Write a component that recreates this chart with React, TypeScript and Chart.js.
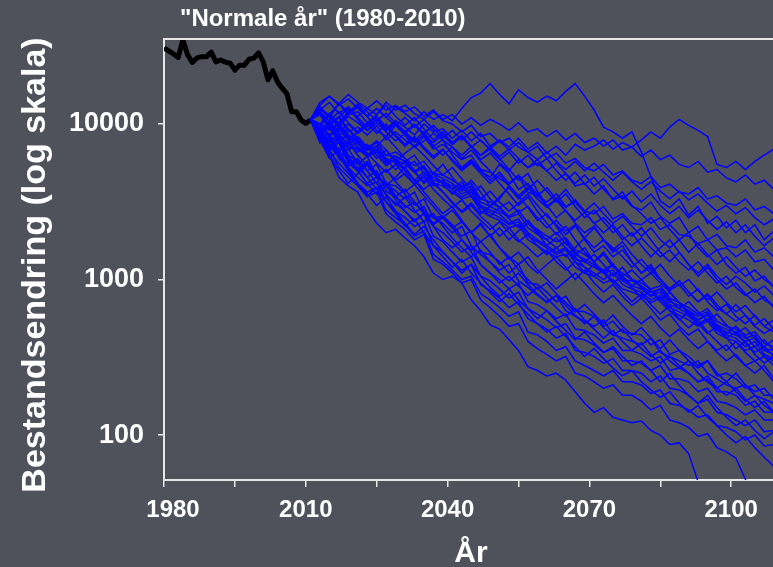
import React, { useEffect, useRef } from "react";
import { Chart, registerables } from "chart.js";

Chart.register(...registerables);

// ---- categories / ticks ----
const histYears = [1980, 1981, 1982, 1983, 1984, 1985, 1986, 1987, 1988, 1989, 1990, 1991, 1992, 1993, 1994, 1995, 1996, 1997, 1998, 1999, 2000, 2001, 2002, 2003, 2004, 2005, 2006, 2007, 2008, 2009, 2010, 2011];
const histValues = [30800, 29500, 28200, 26800, 34700, 27800, 24900, 26600, 27100, 27100, 29000, 25100, 25800, 25000, 24600, 22200, 23900, 23900, 26100, 26500, 28700, 25100, 19200, 22000, 18700, 17000, 15700, 12000, 12000, 10600, 10100, 10600];

const simYears = [2011, 2013, 2015, 2017, 2019, 2021, 2023, 2025, 2027, 2029, 2031, 2033, 2035, 2037, 2039, 2041, 2043, 2045, 2047, 2049, 2051, 2053, 2055, 2057, 2059, 2061, 2063, 2065, 2067, 2069, 2071, 2073, 2075, 2077, 2079, 2081, 2083, 2085, 2087, 2089, 2091, 2093, 2095, 2097, 2099, 2101, 2103, 2105, 2107, 2109, 2111, 2113];

const xTickLabels = [1980, 2010, 2040, 2070, 2100];
const yTickValues = [100, 1000, 10000];

const titleText = '"Normale år" (1980-2010)';
const yTitle = "Bestandsendring (log skala)";
const xTitle = "År";

// ---- simulated runs (values per simYears) ----
const run01 = [10700, 12300, 11500, 13500, 12000, 13200, 11200, 12600, 11000, 12900, 11700, 10500, 12000, 10700, 11500, 10500, 12600, 14800, 15800, 18200, 15500, 13500, 16600, 14800, 13800, 15100, 14100, 16200, 18200, 15100, 12300, 9550, 8900, 8100, 8900, 6600, 4600, 3200, 2900, 3300, 2600, 2950, 2300, 2550, 2150, 2400, 2000, 2250, 1800, 2050, 1650, 1850];
const run02 = [10700, 10000, 11700, 9800, 11200, 10200, 9100, 10700, 9300, 10500, 9550, 8500, 10000, 8900, 9300, 8100, 9100, 7800, 8700, 7200, 7900, 7100, 8100, 6900, 7600, 6500, 7200, 6300, 7400, 6800, 7200, 7900, 6900, 7600, 7100, 7900, 8900, 8100, 9550, 10700, 9800, 9100, 8300, 5500, 5250, 5750, 5100, 5750, 6300, 6900, 6500, 6800];
const run03 = [10700, 13200, 15100, 13500, 15500, 13800, 12600, 14100, 12300, 13200, 12000, 12900, 11200, 12300, 10700, 11500, 10000, 11000, 9800, 10700, 10000, 9100, 10200, 8900, 9300, 8300, 9100, 7900, 8700, 7600, 8100, 7200, 7900, 6800, 7100, 6200, 6800, 5900, 6300, 5500, 5250, 5750, 4900, 5100, 4500, 4250, 4700, 4100, 4350, 3800, 4000, 3550];
const run04 = [10700, 9550, 11500, 10200, 12000, 11200, 12600, 11500, 13800, 12300, 13200, 11700, 10700, 12000, 10500, 10000, 8900, 9800, 8300, 8700, 7600, 8100, 7100, 6600, 7200, 6000, 6500, 5600, 6000, 5250, 5000, 5500, 4700, 5000, 4350, 4150, 4600, 3900, 4100, 3650, 3550, 3900, 3300, 3450, 3100, 3000, 3300, 2800, 2950, 2650, 2750, 2500];
const run05 = [10700, 12600, 11000, 13500, 11500, 12000, 10200, 11200, 9100, 9800, 8900, 7800, 8900, 7200, 7900, 7100, 6300, 7200, 5900, 6500, 5600, 5000, 5900, 5250, 5600, 5000, 4350, 4800, 4000, 4150, 3550, 4000, 3250, 3450, 2950, 2800, 3150, 2550, 2300, 2500, 2000, 2200, 1800, 1950, 1650, 1600, 1800, 1500, 1600, 1400, 1500, 1400];
const run06 = [10700, 11700, 9800, 11000, 8900, 9550, 8500, 9800, 7900, 8900, 7900, 7200, 8300, 6900, 7400, 6600, 5900, 6300, 5100, 4900, 4450, 4100, 4600, 3650, 3450, 3150, 3550, 2950, 3150, 2750, 2650, 2950, 2450, 2650, 2300, 2250, 2500, 2100, 2250, 1950, 1900, 1700, 1800, 1550, 1600, 1400, 1550, 1300, 1350, 1150, 1250, 1100];
const run07 = [10700, 12600, 11000, 9550, 11500, 12900, 11200, 9100, 8300, 9800, 8500, 7100, 7800, 8700, 7900, 6300, 5250, 5900, 5000, 4550, 5500, 4800, 3800, 4150, 3550, 2950, 3300, 3800, 3150, 2700, 2300, 2500, 2150, 1800, 2000, 1650, 1400, 1600, 1800, 1500, 1250, 1100, 1250, 1050, 930, 1050, 950, 830, 910, 790, 720, 830];
const run08 = [10700, 9100, 10500, 12000, 10200, 8900, 10000, 11500, 13200, 11200, 9800, 11000, 9300, 7900, 8900, 7600, 8500, 7200, 6300, 6900, 6000, 5100, 4350, 4800, 3700, 3000, 2500, 2800, 2300, 2000, 2200, 1800, 1500, 1650, 1300, 1100, 1250, 1000, 870, 980, 830, 720, 790, 660, 600, 690, 590, 510, 560, 480, 430, 460];
const run09 = [10700, 8300, 7100, 7900, 6000, 5000, 5600, 4550, 5100, 4350, 4800, 4150, 4700, 4000, 4350, 3800, 4250, 3550, 4000, 3300, 2900, 3150, 2700, 2950, 2500, 2150, 2400, 2050, 2250, 1800, 1500, 1650, 1400, 1550, 1300, 1100, 1200, 1000, 850, 930, 780, 870, 720, 630, 690, 580, 520, 590, 500, 460, 500, 430];
const run10 = [10700, 12000, 9800, 8500, 9300, 7600, 6300, 7200, 8300, 7100, 6000, 5000, 4150, 4800, 5500, 4550, 3800, 4350, 3650, 2950, 3300, 4000, 3450, 2900, 2400, 2650, 2200, 1800, 1450, 1600, 1300, 1100, 950, 1050, 890, 760, 850, 720, 630, 550, 620, 520, 450, 500, 420, 360, 400, 330, 290, 320, 270, 240];
const run11 = [10700, 8700, 7200, 6200, 6900, 5600, 4550, 3800, 4250, 3450, 2900, 3150, 2650, 2250, 2500, 2150, 2350, 2000, 2250, 1900, 2150, 1800, 2050, 2300, 2000, 1650, 1850, 1600, 1400, 1200, 1050, 1150, 980, 830, 720, 810, 690, 600, 680, 560, 490, 550, 460, 400, 350, 400, 340, 300, 320, 280, 250, 260];
const run12 = [10700, 12300, 13800, 11700, 12900, 11000, 9550, 10700, 9100, 10200, 8700, 9800, 8500, 7600, 8500, 7400, 8300, 7100, 7900, 6800, 5900, 6600, 5600, 6300, 5400, 6000, 5000, 4350, 4900, 4100, 4550, 3800, 3300, 3650, 3000, 2650, 2300, 2500, 2100, 1800, 2000, 1600, 1400, 1550, 1250, 1100, 1200, 980, 1050, 890, 790, 870];
const run13 = [10700, 7900, 6300, 5000, 4150, 4800, 5500, 4700, 4000, 4550, 5250, 4350, 3650, 3100, 2650, 2950, 2400, 2000, 1750, 1950, 1600, 1350, 1500, 1250, 1100, 1250, 1400, 1200, 1000, 1150, 950, 830, 930, 780, 680, 760, 650, 550, 600, 500, 440, 480, 400, 350, 380, 320, 280, 300, 260, 220, 250, 210];
const run14 = [10700, 11700, 10000, 11200, 9300, 8100, 6900, 7800, 6800, 5750, 6500, 7200, 6300, 5400, 4700, 5250, 4450, 3800, 3300, 3700, 3150, 2750, 3100, 3550, 3000, 2550, 2250, 1950, 2200, 1850, 1600, 1800, 1550, 1750, 1450, 1250, 1100, 1250, 1050, 910, 1000, 850, 740, 830, 710, 620, 680, 580, 500, 550, 470, 420];
const run15 = [10700, 8700, 9550, 7900, 8500, 7400, 6900, 7600, 6300, 6600, 6000, 5400, 5750, 4800, 4700, 4350, 4000, 4150, 3300, 3150, 2900, 2550, 2800, 2300, 2100, 1900, 1750, 1850, 1550, 1450, 1300, 1450, 1200, 1100, 1000, 950, 870, 910, 760, 710, 660, 600, 650, 540, 500, 480, 440, 460, 390, 370, 350, 330];
const run16 = [10700, 10000, 9100, 10200, 8500, 7900, 7100, 7600, 6300, 6200, 5750, 6300, 5100, 4800, 4450, 4150, 3700, 4000, 3150, 2950, 2750, 2500, 2650, 2150, 1950, 1800, 1600, 1750, 1450, 1350, 1250, 1150, 1250, 1000, 980, 910, 830, 870, 720, 680, 630, 580, 620, 510, 480, 460, 420, 440, 360, 350, 330, 320];
const run17 = [10700, 8500, 7600, 8100, 6900, 7100, 6300, 6800, 5750, 6200, 5750, 5000, 5400, 4350, 4250, 4000, 3550, 3800, 3000, 2800, 2650, 2300, 2450, 2000, 1800, 1650, 1500, 1600, 1350, 1300, 1200, 1100, 1150, 980, 910, 870, 780, 830, 690, 650, 600, 550, 590, 490, 460, 440, 400, 420, 350, 330, 320, 300];
const run18 = [10700, 11500, 9300, 9800, 8300, 7600, 6800, 7200, 6000, 5600, 5250, 5750, 4800, 4550, 4150, 3800, 3400, 3650, 2900, 2700, 2500, 2250, 2350, 1900, 1750, 1600, 1450, 1550, 1300, 1200, 1100, 1000, 1100, 930, 870, 830, 740, 790, 660, 620, 580, 520, 560, 470, 440, 420, 370, 400, 330, 310, 300, 280];
const run19 = [10700, 9100, 7900, 8500, 7200, 6900, 6200, 6600, 5600, 5900, 5500, 4900, 5250, 4150, 4000, 3650, 3300, 3450, 2750, 2550, 2400, 2150, 2250, 1800, 1650, 1500, 1400, 1450, 1200, 1100, 1050, 950, 1000, 870, 830, 790, 710, 760, 630, 590, 550, 500, 540, 450, 420, 400, 350, 370, 320, 300, 280, 260];
const run20 = [10700, 9300, 7800, 6600, 7600, 6300, 5400, 4550, 5100, 4250, 3650, 4100, 3450, 2950, 2500, 2800, 2350, 2000, 2300, 1900, 1600, 1400, 1250, 1400, 1150, 1000, 870, 980, 1100, 950, 810, 710, 790, 680, 590, 520, 580, 490, 430, 480, 410, 360, 400, 340, 300, 330, 280, 250, 280, 230, 210, 230];
const run21 = [10700, 8900, 10200, 8700, 7400, 8300, 7100, 6000, 6800, 5750, 5000, 4350, 4900, 4150, 3650, 3150, 2750, 3100, 2650, 2950, 3400, 3900, 3300, 3800, 4350, 3700, 3150, 3550, 2950, 2500, 2800, 2350, 2000, 2250, 1900, 2150, 1800, 1500, 1300, 1500, 1250, 1050, 1200, 1000, 870, 950, 810, 710, 780, 660, 590, 630];
const run22 = [10700, 8500, 9550, 7600, 6200, 5100, 5750, 4800, 4000, 3400, 3800, 3150, 2700, 2300, 2550, 2150, 1800, 1550, 1750, 1500, 1250, 1400, 1150, 1000, 870, 950, 810, 710, 620, 690, 600, 520, 590, 500, 440, 490, 420, 360, 410, 350, 300, 270, 300, 250, 220, 250, 210, 190, 200, 170, 160, 170];
const run23 = [10700, 11500, 9800, 11000, 12600, 10700, 9100, 10200, 8900, 7800, 8700, 7600, 8500, 7200, 6300, 7100, 6000, 6800, 5750, 5000, 4150, 3550, 3000, 3400, 2750, 2300, 1950, 2200, 1800, 1500, 1300, 1500, 1250, 1050, 910, 1000, 850, 740, 830, 710, 620, 550, 600, 510, 450, 500, 430, 370, 410, 350, 310, 330];
const run24 = [10700, 8100, 6800, 7600, 6000, 5000, 4150, 3550, 4000, 3250, 2750, 2350, 2650, 2200, 1800, 1600, 1800, 1500, 1250, 1100, 950, 1050, 910, 790, 890, 760, 660, 580, 650, 550, 480, 420, 470, 400, 350, 390, 330, 290, 320, 280, 250, 220, 240, 200, 180, 200, 170, 150, 165, 140, 130, 140];
const run25 = [10700, 9550, 8300, 9300, 7800, 6600, 7400, 6300, 5400, 6000, 5000, 4350, 3800, 4250, 3650, 3100, 2700, 3000, 2550, 2250, 1900, 2150, 1800, 1600, 1400, 1550, 1300, 1150, 1300, 1100, 1250, 1100, 1250, 1050, 1150, 1000, 1100, 950, 830, 710, 600, 510, 560, 480, 420, 460, 390, 340, 370, 320, 280, 300];
const run26 = [10700, 9100, 7900, 6900, 7800, 8900, 10200, 8700, 10000, 8500, 7400, 8300, 7100, 6200, 6900, 5750, 5000, 5600, 4800, 4150, 4700, 4000, 3450, 3900, 3300, 2900, 3250, 2750, 2400, 2700, 2300, 2000, 2250, 1900, 1650, 1850, 1600, 1400, 1550, 1300, 1150, 1300, 1100, 950, 1050, 890, 790, 870, 740, 680, 740, 650];
const run27 = [10700, 9100, 7600, 8300, 6300, 5750, 5000, 5500, 4150, 4000, 3550, 3000, 3300, 2500, 2550, 2250, 1900, 2050, 1500, 1450, 1300, 1100, 1250, 950, 930, 830, 720, 780, 630, 620, 580, 500, 540, 460, 450, 440, 380, 410, 330, 350, 320, 280, 300, 240, 250, 230, 200, 210, 180, 180, 170, 160];
const run28 = [10700, 7900, 8700, 6600, 6000, 5500, 6200, 4550, 4150, 3700, 3300, 3650, 2750, 2500, 2300, 2000, 2200, 1650, 1450, 1300, 1150, 1250, 980, 890, 790, 720, 790, 630, 580, 540, 500, 550, 440, 420, 400, 380, 420, 340, 320, 300, 280, 300, 250, 230, 210, 200, 210, 180, 170, 160, 150, 140];
const run29 = [10700, 9300, 7200, 7900, 5750, 5250, 4550, 5000, 3700, 3400, 3000, 2700, 2950, 2200, 2000, 1750, 1500, 1650, 1250, 1100, 1000, 870, 950, 720, 690, 630, 560, 600, 480, 470, 440, 390, 420, 350, 350, 330, 300, 320, 260, 270, 250, 220, 230, 190, 190, 180, 155, 165, 140, 140, 130, 125];
const run30 = [10700, 8500, 6900, 7600, 5600, 5000, 4150, 4550, 3450, 3100, 2750, 2400, 2650, 1900, 1750, 1500, 1300, 1400, 1050, 980, 870, 760, 830, 650, 600, 550, 490, 520, 420, 410, 380, 340, 360, 300, 300, 290, 260, 280, 230, 230, 220, 190, 200, 165, 160, 150, 135, 145, 125, 125, 115, 110];
const run31 = [10700, 7600, 8300, 6000, 5250, 4550, 4000, 4250, 3150, 2750, 2500, 2200, 2350, 1650, 1500, 1300, 1150, 1250, 930, 850, 760, 660, 720, 560, 520, 480, 420, 450, 350, 340, 320, 290, 310, 260, 260, 250, 220, 240, 200, 195, 180, 160, 170, 140, 135, 125, 115, 125, 105, 107, 100, 95];
const run32 = [10700, 8300, 6600, 5600, 4800, 4150, 3650, 3900, 2800, 2500, 2250, 1900, 2050, 1450, 1300, 1150, 1000, 1050, 810, 740, 660, 580, 620, 460, 440, 400, 350, 370, 300, 280, 260, 240, 260, 220, 220, 210, 185, 195, 160, 155, 145, 130, 135, 115, 112, 105, 93, 100, 85, 87, 81, 79];
const run33 = [10700, 8700, 6900, 5250, 4550, 4000, 3400, 3650, 2650, 2350, 2100, 1800, 1950, 1350, 1250, 1100, 950, 1000, 740, 660, 580, 500, 520, 400, 360, 330, 300, 320, 250, 240, 220, 200, 210, 180, 180, 165, 145, 155, 125, 120, 112, 98, 102, 83, 78, 71, 52, 40, 35, 32, 30, 28];
const run34 = [10700, 7900, 6300, 4550, 4000, 3650, 2800, 2300, 2000, 2100, 1850, 1650, 1400, 1100, 1000, 1050, 950, 740, 630, 510, 480, 410, 350, 275, 260, 240, 250, 225, 190, 160, 140, 150, 130, 125, 120, 123, 107, 100, 87, 89, 76, 50, 35, 32, 28, 25, 22, 24, 20, 19, 18, 16];
const run35 = [10700, 12900, 11200, 10000, 11500, 13500, 12000, 10500, 11700, 10200, 8900, 10000, 8700, 9800, 8500, 7400, 8300, 7200, 6300, 7100, 6200, 6900, 6000, 5250, 5900, 5000, 5600, 4800, 4150, 4700, 4000, 4450, 3800, 3300, 3700, 3150, 3550, 3000, 2650, 2950, 2500, 2800, 2400, 2100, 2350, 2000, 2250, 1900, 1650, 1850, 1600, 1750];
const run36 = [10700, 8700, 9800, 8100, 6900, 7800, 6500, 5600, 4900, 5500, 4700, 4100, 4550, 3800, 3300, 2900, 3250, 2750, 2400, 2100, 2350, 2000, 1750, 1950, 1650, 1450, 1600, 1400, 1600, 1850, 2150, 1800, 1600, 1400, 1200, 1350, 1150, 1000, 870, 980, 830, 720, 810, 690, 600, 540, 590, 500, 450, 490, 420, 380];
const run37 = [10700, 8900, 7400, 6300, 5400, 6000, 5000, 4150, 3550, 3000, 3400, 2800, 2350, 2650, 2200, 1850, 1600, 1400, 1550, 1300, 1100, 980, 1100, 930, 810, 710, 790, 680, 590, 520, 580, 490, 440, 480, 410, 360, 320, 350, 300, 270, 300, 250, 220, 200, 220, 190, 165, 180, 155, 140, 150, 130];
const run38 = [10700, 12000, 10500, 8900, 10000, 8700, 9800, 11200, 9550, 8300, 7200, 8100, 6900, 6000, 6800, 5900, 5100, 5750, 5000, 4350, 4900, 4150, 4700, 4000, 3450, 3900, 3300, 2900, 3250, 2750, 3100, 2650, 2300, 2550, 2200, 1900, 2150, 1800, 1600, 1800, 1500, 1700, 1450, 1250, 1400, 1200, 1050, 1150, 1000, 910, 1000, 870];
const run39 = [10700, 7900, 6000, 6800, 5250, 4150, 3550, 3000, 3400, 2750, 2300, 1950, 2200, 1800, 1500, 1300, 1100, 1250, 1050, 890, 780, 870, 740, 650, 560, 630, 540, 470, 410, 460, 390, 340, 370, 320, 280, 300, 260, 220, 250, 210, 180, 160, 180, 150, 130, 115, 125, 107, 95, 105, 89, 81];
const run40 = [10700, 10000, 8500, 9550, 8100, 7100, 6200, 6900, 5900, 5100, 5750, 4900, 4250, 4800, 4100, 3550, 4000, 3400, 2950, 2550, 2900, 2450, 2150, 2400, 2050, 1800, 2000, 1700, 1500, 1300, 1450, 1250, 1050, 1200, 1000, 890, 790, 870, 740, 650, 720, 620, 540, 600, 510, 450, 490, 420, 370, 410, 350, 320];
const run41 = [10700, 13800, 15100, 13200, 14500, 12600, 11200, 12600, 11000, 9800, 11000, 9550, 10700, 9300, 8100, 9100, 7900, 8900, 7800, 6900, 7800, 6800, 7600, 6600, 5900, 6600, 5750, 5100, 5750, 5000, 5600, 4900, 4350, 4900, 4250, 3800, 4250, 3700, 3300, 3700, 3250, 3550, 3100, 2750, 3000, 2650, 2900, 2500, 2250, 2450, 2150, 2300];
const run42 = [10700, 7600, 8300, 6300, 5000, 4150, 3450, 3900, 3150, 2650, 2200, 2450, 2000, 1650, 1400, 1200, 1350, 1100, 950, 830, 720, 810, 690, 600, 520, 460, 500, 430, 370, 320, 360, 310, 270, 240, 260, 220, 195, 175, 190, 160, 140, 155, 130, 115, 100, 89, 98, 83, 72, 63, 69, 60];

const runs = [run01, run02, run03, run04, run05, run06, run07, run08, run09, run10, run11, run12, run13, run14, run15, run16, run17, run18, run19, run20, run21, run22, run23, run24, run25, run26, run27, run28, run29, run30, run31, run32, run33, run34, run35, run36, run37, run38, run39, run40, run41, run42];

// ---- styling ----
const FONT = '"Liberation Sans", Arial, Helvetica, sans-serif';
const BG = "#4f525b";
const FG = "#ffffff";
const AXIS = "#e6e6e6";

export default function App() {
  const ref = useRef<HTMLCanvasElement | null>(null);

  useEffect(() => {
    const canvas = ref.current;
    if (!canvas) return;

    const deco = {
      id: "deco",
      beforeDraw(chart: any) {
        const { ctx, width, height } = chart;
        ctx.save();
        ctx.fillStyle = BG;
        ctx.fillRect(0, 0, width, height);
        ctx.restore();
      },
      afterDraw(chart: any) {
        const { ctx, chartArea: a, scales } = chart;
        ctx.save();
        // top frame line
        ctx.strokeStyle = AXIS;
        ctx.lineWidth = 2;
        ctx.beginPath();
        ctx.moveTo(a.left - 1, a.top);
        ctx.lineTo(a.right, a.top);
        ctx.stroke();

        ctx.fillStyle = FG;
        ctx.textBaseline = "alphabetic";

        // subtitle
        ctx.font = `bold 24px ${FONT}`;
        ctx.textAlign = "left";
        ctx.fillText(titleText, 180, 26);

        // x tick labels
        ctx.font = `bold 24px ${FONT}`;
        ctx.textAlign = "center";
        xTickLabels.forEach((v) => {
          const px = Math.max(scales.x.getPixelForValue(v), a.left + 9);
          ctx.fillText(String(v), px, 517);
        });

        // x axis title
        ctx.font = `bold 30px ${FONT}`;
        ctx.fillText(xTitle, 471, 562);

        // y axis title
        ctx.translate(45, 265);
        ctx.rotate(-Math.PI / 2);
        ctx.font = `bold 34px ${FONT}`;
        ctx.textAlign = "center";
        ctx.fillText(yTitle, 0, 0);
        ctx.restore();
      },
    };

    const datasets: any[] = runs.map((r, i) => ({
      label: `run${i + 1}`,
      data: simYears.map((yr, j) => ({ x: yr, y: r[j] })),
      borderColor: "#0000ff",
      backgroundColor: "#0000ff",
      borderWidth: 1.5,
      pointRadius: 0,
      tension: 0,
      fill: false,
    }));
    datasets.push({
      label: "observert",
      data: histYears.map((yr, j) => ({ x: yr, y: histValues[j] })),
      borderColor: "#000000",
      backgroundColor: "#000000",
      borderWidth: 5,
      pointRadius: 0,
      tension: 0,
      fill: false,
      borderJoinStyle: "round",
    });

    const chart = new Chart(canvas, {
      type: "line",
      data: { datasets },
      options: {
        animation: false,
        responsive: false,
        devicePixelRatio: 1,
        events: [],
        layout: { padding: { top: 39, left: 0, right: 0, bottom: 0 } },
        plugins: {
          legend: { display: false },
          tooltip: { enabled: false },
          title: { display: false },
        },
        scales: {
          x: {
            type: "linear",
            min: 1980,
            max: 2130,
            afterFit(s: any) {
              s.height = 87;
            },
            ticks: { display: false, stepSize: 15, autoSkip: false },
            grid: {
              display: true,
              drawOnChartArea: false,
              drawTicks: true,
              tickLength: 7,
              color: AXIS,
              lineWidth: 1.5,
            },
            border: { display: true, color: AXIS, width: 2 },
          },
          y: {
            type: "logarithmic",
            min: 51.4,
            max: 35200,
            afterFit(s: any) {
              s.width = 164;
            },
            afterBuildTicks(s: any) {
              s.ticks = yTickValues.map((v) => ({ value: v }));
            },
            ticks: {
              autoSkip: false,
              padding: 14,
              color: FG,
              font: { family: FONT, size: 27, weight: "bold" },
              callback: (v: any) => String(v),
            },
            grid: {
              display: true,
              drawOnChartArea: false,
              drawTicks: true,
              tickLength: 6,
              color: AXIS,
              lineWidth: 1.5,
            },
            border: { display: true, color: AXIS, width: 2 },
          },
        },
      } as any,
      plugins: [deco],
    });

    return () => chart.destroy();
  }, []);

  return (
    <div
      style={{
        position: "fixed",
        left: 0,
        top: 0,
        width: 773,
        height: 567,
        overflow: "hidden",
        background: BG,
      }}
    >
      <canvas
        ref={ref}
        width={873}
        height={567}
        style={{ display: "block", width: 873, height: 567 }}
      />
    </div>
  );
}
